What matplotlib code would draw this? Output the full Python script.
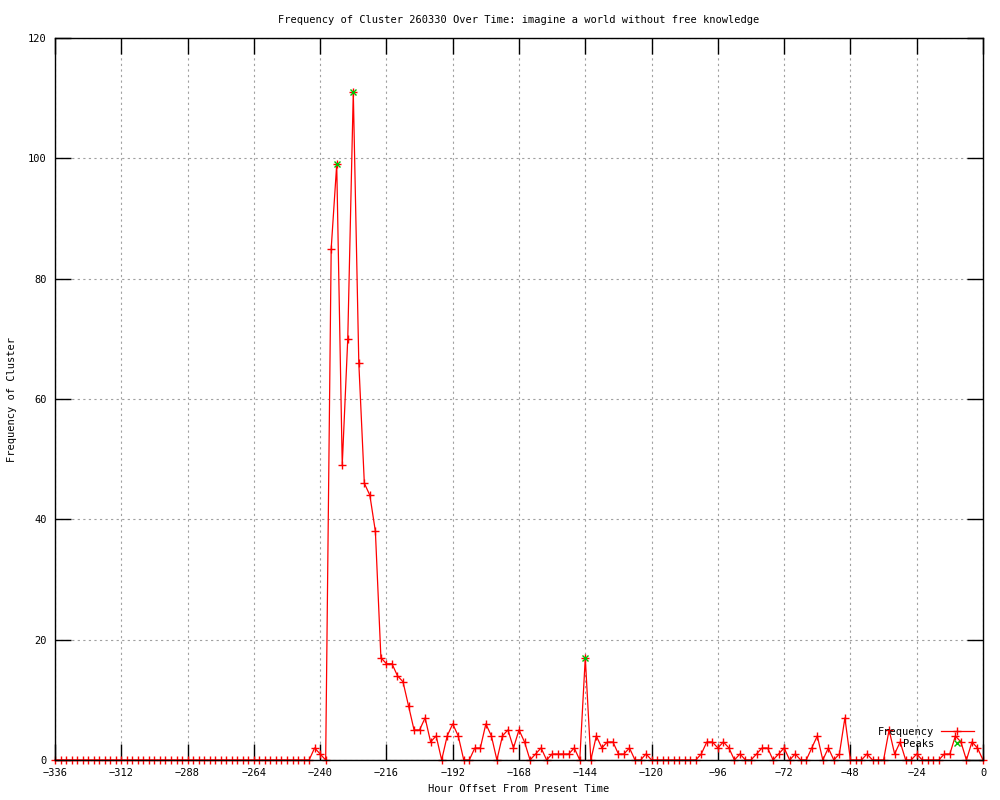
import matplotlib
matplotlib.use("Agg")
import matplotlib.pyplot as plt
import numpy as np

# hourly offsets, one sample every 2 hours
hours = list(range(-336, 1, 2))

freq = [0] * 47 + [
    2, 1, 0, 85, 99, 49, 70, 111, 66, 46, 44, 38,
    17, 16, 16, 14, 13, 9, 5, 5, 7, 3, 4, 0,
    4, 6, 4, 0, 0, 2, 2, 6, 4, 0, 4, 5,
    2, 5, 3, 0, 1, 2, 0, 1, 1, 1, 1, 2,
    0, 17, 0, 4, 2, 3, 3, 1, 1, 2, 0, 0,
    1, 0, 0, 0, 0, 0, 0, 0, 0, 0, 1, 3,
    3, 2, 3, 2, 0, 1, 0, 0, 1, 2, 2, 0,
    1, 2, 0, 1, 0, 0, 2, 4, 0, 2, 0, 1,
    7, 0, 0, 0, 1, 0, 0, 0, 5, 1, 3, 0,
    0, 1, 0, 0, 0, 0, 1, 1, 4, 3, 0, 3,
    2, 0,
]

peak_hours = [-234, -228, -144]
peak_vals = [99, 111, 17]

x_ticks = list(range(-336, 1, 24))
y_ticks = list(range(0, 121, 20))

fs = 7.5
plt.rcParams['font.family'] = ['DejaVu Sans Mono']

fig = plt.figure(figsize=(10, 8), dpi=100)
ax = fig.add_axes([0.055, 0.05, 0.928, 0.9025])

ax.plot(hours, freq, color='#ff0000', lw=0.9, marker='+', ms=6, mew=1.0,
        label='Frequency', clip_on=False, zorder=3)
ax.plot(peak_hours, peak_vals, ls='none', color='#00c000', marker='x', ms=5,
        mew=1.0, label='Peaks', clip_on=False, zorder=4)

ax.set_xlim(-336, 0)
ax.set_ylim(0, 120)
ax.set_xticks(x_ticks)
ax.set_yticks(y_ticks)
ax.tick_params(axis='both', which='major', direction='in', length=11.5, width=1,
               top=True, right=True, labelsize=fs, pad=6)
ax.grid(True, color='#a0a0a0', linestyle=(0, (2, 3)), linewidth=0.8)
ax.set_axisbelow(True)
for s in ax.spines.values():
    s.set_linewidth(1)
    s.set_zorder(5)

ax.set_title('Frequency of Cluster 260330 Over Time: imagine a world without free knowledge',
             fontsize=fs, pad=11)
ax.set_xlabel('Hour Offset From Present Time', fontsize=fs, labelpad=4)
ax.set_ylabel('Frequency of Cluster', fontsize=fs, labelpad=8)

ax.legend(loc='lower right', bbox_to_anchor=(0.998, 0.005), frameon=False,
          markerfirst=False, fontsize=fs, handlelength=3.2, handletextpad=0.6,
          labelspacing=0.2, borderaxespad=0.3)

plt.savefig('out.png', dpi=100)
